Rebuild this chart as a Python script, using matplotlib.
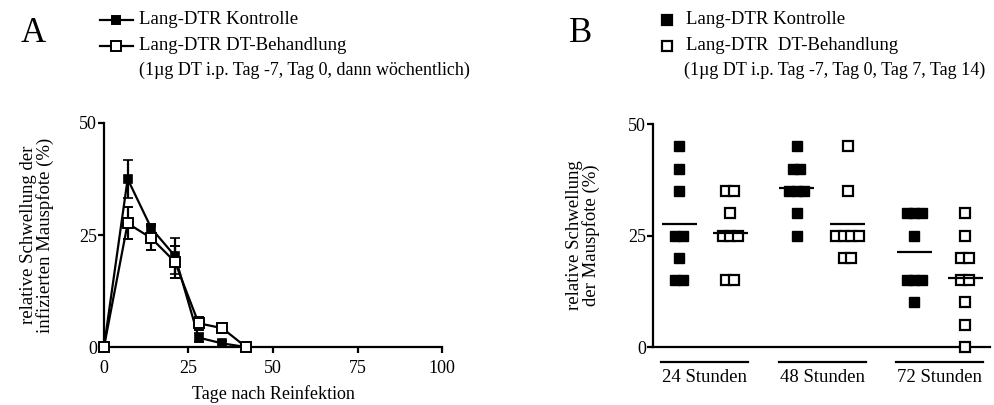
import matplotlib
matplotlib.use('Agg')
import matplotlib.pyplot as plt
import matplotlib.transforms as mtransforms
from matplotlib.lines import Line2D
import numpy as np

plt.rcParams['font.family'] = ['Liberation Serif', 'DejaVu Serif']

# Panel A: time course after reinfection
days = [0, 7, 14, 21, 28, 35, 42]
kontrolle = [0, 37.5, 26.5, 20.3, 2.1, 0.8, 0]
kontrolle_err = [0, 4.3, 1.0, 4.1, 1.0, 0.6, 0]
dt = [0, 27.6, 24.3, 19.0, 5.3, 4.2, 0]
dt_err = [0, 3.6, 2.7, 3.5, 1.5, 1.0, 0]

# Panel B: single animals per time point
groups = ['24 Stunden', '48 Stunden', '72 Stunden']
b_kontrolle = [
    [45, 40, 35, 25, 25, 20, 15, 15],
    [45, 40, 40, 35, 35, 35, 30, 25],
    [30, 30, 30, 25, 15, 15, 15, 10],
]
b_dt = [
    [35, 35, 30, 25, 25, 25, 15, 15],
    [45, 35, 25, 25, 25, 25, 20, 20],
    [30, 25, 20, 20, 15, 15, 10, 5, 0],
]

lab_k = 'Lang-DTR Kontrolle'
lab_dt_a = 'Lang-DTR DT-Behandlung'
lab_dt_b = 'Lang-DTR  DT-Behandlung'
note_a = '(1\u00b5g DT i.p. Tag -7, Tag 0, dann w\u00f6chentlich)'
note_b = '(1\u00b5g DT i.p. Tag -7, Tag 0, Tag 7, Tag 14)'

W, H = 994, 405
fig = plt.figure(figsize=(W / 100, H / 100), dpi=100)

lw = 1.6
fs = 13
lfs = 13.5
nfs = 13


def px(x, y):
    return x / W, 1 - y / H


# ---------- A ----------
axA = fig.add_axes([0.1046, 0.1432, 0.3401, 0.5531])
axA.errorbar(days, kontrolle, yerr=kontrolle_err, color='black', lw=lw,
             marker='s', ms=5.5, mfc='black', mec='black', mew=1.2,
             capsize=3.8, capthick=lw, elinewidth=lw, clip_on=False, zorder=3)
axA.errorbar(days, dt, yerr=dt_err, color='black', lw=lw,
             marker='s', ms=6.8, mfc='white', mec='black', mew=1.4,
             capsize=3.8, capthick=lw, elinewidth=lw, clip_on=False, zorder=4)
axA.set_xlim(0, 100)
axA.set_ylim(0, 50)
axA.set_xticks([0, 25, 50, 75, 100])
axA.set_yticks([0, 25, 50])
for s in ['top', 'right']:
    axA.spines[s].set_visible(False)
for s in ['left', 'bottom']:
    axA.spines[s].set_linewidth(lw)
axA.tick_params(direction='out', length=4, width=lw, labelsize=fs, pad=1)
axA.tick_params(axis='x', pad=5)
axA.set_xlabel('Tage nach Reinfektion', fontsize=13, labelpad=6)
axA.set_ylabel('relative Schwellung der\ninfizierten Mauspfote (%)',
               fontsize=lfs, labelpad=18, linespacing=0.95)

# ---------- B ----------
axB = fig.add_axes([0.657, 0.1432, 0.339, 0.5506])
step = 0.15
for g in range(len(groups)):
    for j, vals in enumerate([b_kontrolle[g], b_dt[g]]):
        cx = 2.35 * g + 1.02 * j
        vals_arr = np.array(vals)
        xs = np.full(len(vals), cx, dtype=float)
        for v in np.unique(vals_arr):
            idx = np.where(vals_arr == v)[0]
            n = len(idx)
            xs[idx] = cx + (np.arange(n) - (n - 1) / 2) * step
        if j == 0:
            axB.plot(xs, vals, 's', ms=7, mfc='black', mec='black',
                     clip_on=False, zorder=3)
        else:
            axB.plot(xs, vals, 's', ms=7, mfc='white', mec='black', mew=1.6,
                     clip_on=False, zorder=3)
        axB.hlines(np.mean(vals), cx - 0.35, cx + 0.35,
                   color='black', lw=lw, zorder=4)

axB.set_xlim(-0.52, 6.22)
axB.set_ylim(0, 50)
axB.set_yticks([0, 25, 50])
axB.set_xticks([])
for s in ['top', 'right']:
    axB.spines[s].set_visible(False)
for s in ['left', 'bottom']:
    axB.spines[s].set_linewidth(lw)
axB.tick_params(direction='out', length=4, width=lw, labelsize=fs, pad=1)
axB.set_ylabel('relative Schwellung\nder Mauspfote (%)', fontsize=lfs,
               labelpad=20, linespacing=0.95)

trans = mtransforms.blended_transform_factory(axB.transData, axB.transAxes)
for g, name in enumerate(groups):
    c = 2.35 * g + 0.51
    axB.plot([c - 0.87, c + 0.87], [-0.066, -0.066], color='black', lw=lw,
             transform=trans, clip_on=False)
    axB.text(c, -0.135, name, transform=trans, ha='center', va='center',
             fontsize=lfs)

# ---------- panel letters and legends ----------
fig.text(*px(21, 33), 'A', fontsize=25, va='center', ha='left')
fig.text(*px(569, 33), 'B', fontsize=25, va='center', ha='left')

for y, filled in [(20, True), (46, False)]:
    fig.add_artist(Line2D([px(100, y)[0], px(133, y)[0]], [px(0, y)[1]] * 2,
                          color='black', lw=lw, transform=fig.transFigure))
    fig.add_artist(Line2D([px(116, y)[0]], [px(0, y)[1]], ls='none', marker='s',
                          ms=5.5 if filled else 6.8,
                          mfc='black' if filled else 'white', mec='black', mew=1.4,
                          transform=fig.transFigure))
    fig.add_artist(Line2D([px(667, y)[0]], [px(0, y)[1]], ls='none', marker='s',
                          ms=7, mfc='black' if filled else 'white', mec='black',
                          mew=1.6, transform=fig.transFigure))

fig.text(*px(139, 20), lab_k, fontsize=lfs, va='center', ha='left')
fig.text(*px(139, 46), lab_dt_a, fontsize=lfs, va='center', ha='left')
fig.text(*px(139, 70), note_a, fontsize=nfs, va='center', ha='left')

fig.text(*px(686, 20), lab_k, fontsize=lfs, va='center', ha='left')
fig.text(*px(686, 46), lab_dt_b, fontsize=lfs, va='center', ha='left')
fig.text(*px(684, 70), note_b, fontsize=nfs, va='center', ha='left')

fig.savefig('out.png', dpi=100)
